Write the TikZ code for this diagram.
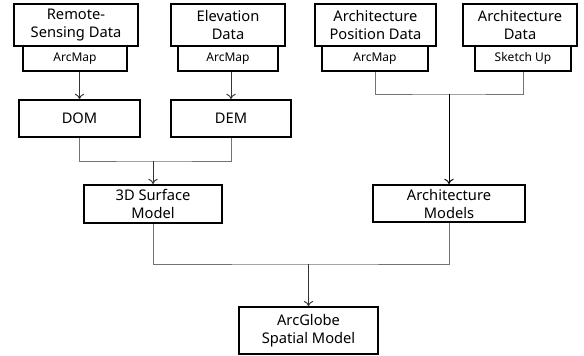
\documentclass[tikz,border=0pt]{standalone}
\usepackage{fontspec}
\setmainfont{Noto Sans}
\usepackage{tikz}
\usetikzlibrary{arrows.meta}

\tikzset{
  mainbox/.style={draw, line width=1.3pt, align=center, inner sep=0pt,
    font=\fontsize{11}{13.5}\selectfont},
  subbox/.style={draw, line width=1pt, align=center, inner sep=0pt,
    font=\fontsize{9}{11}\selectfont},
  link/.style={draw=black!55, line width=0.7pt},
  flow/.style={draw=black!80, line width=0.7pt, -{To[length=4pt,width=7pt]}},
}

\begin{document}
\begin{tikzpicture}[x=0.75pt,y=0.75pt,yscale=-1,xscale=1]
\useasboundingbox (0,0) rectangle (584,356);

% top row: source data
\node [mainbox, minimum width=93pt, minimum height=31.5pt] (rs) at (76,25) {Remote-\\Sensing Data};
\node [subbox, minimum width=78pt, minimum height=18.75pt] (rsm) at (75,58.5) {ArcMap};
\node [mainbox, minimum width=85pt, minimum height=31.5pt] (ev) at (228,25) {Elevation\\Data};
\node [subbox, minimum width=75pt, minimum height=18.75pt] (evm) at (228,58.5) {ArcMap};
\node [mainbox, minimum width=91pt, minimum height=31.5pt] (ap) at (375.5,25) {Architecture\\Position Data};
\node [subbox, minimum width=79.5pt, minimum height=18.75pt] (apm) at (375,58.5) {ArcMap};
\node [mainbox, minimum width=85.5pt, minimum height=31.5pt] (ad) at (520,25) {Architecture\\Data};
\node [subbox, minimum width=72pt, minimum height=18.75pt] (adm) at (523,58.5) {Sketch Up};

% second row
\node [mainbox, minimum width=91pt, minimum height=27.75pt] (dom) at (79.5,118.5) {DOM};
\node [mainbox, minimum width=90pt, minimum height=27.75pt] (dem) at (231,118.5) {DEM};

% models
\node [mainbox, minimum width=104pt, minimum height=28.5pt] (sur) at (153,204) {3D Surface\\Model};
\node [mainbox, minimum width=114pt, minimum height=27.75pt] (arm) at (449,203.5) {Architecture\\Models};
\node [mainbox, minimum width=104pt, minimum height=35pt] (glb) at (308.5,330.5) {ArcGlobe\\Spatial Model};

% junctions
\coordinate (j1) at (153,161);
\coordinate (j2) at (449,94);
\coordinate (j3) at (308.5,264);

% connectors
\draw [flow] (dom.north |- rsm.south) -- (dom.north);
\draw [flow] (dem.north |- evm.south) -- (dem.north);
\draw [link] (dom.south) |- (j1) -| (dem.south);
\draw [flow] (j1) -- (sur.north);
\draw [link] (apm.south) |- (j2) -| (adm.south);
\draw [flow, draw=black] (j2) -- (arm.north);
\draw [link] (sur.south) |- (j3) -| (arm.south);
\draw [flow] (j3) -- (glb.north);
\end{tikzpicture}
\end{document}
